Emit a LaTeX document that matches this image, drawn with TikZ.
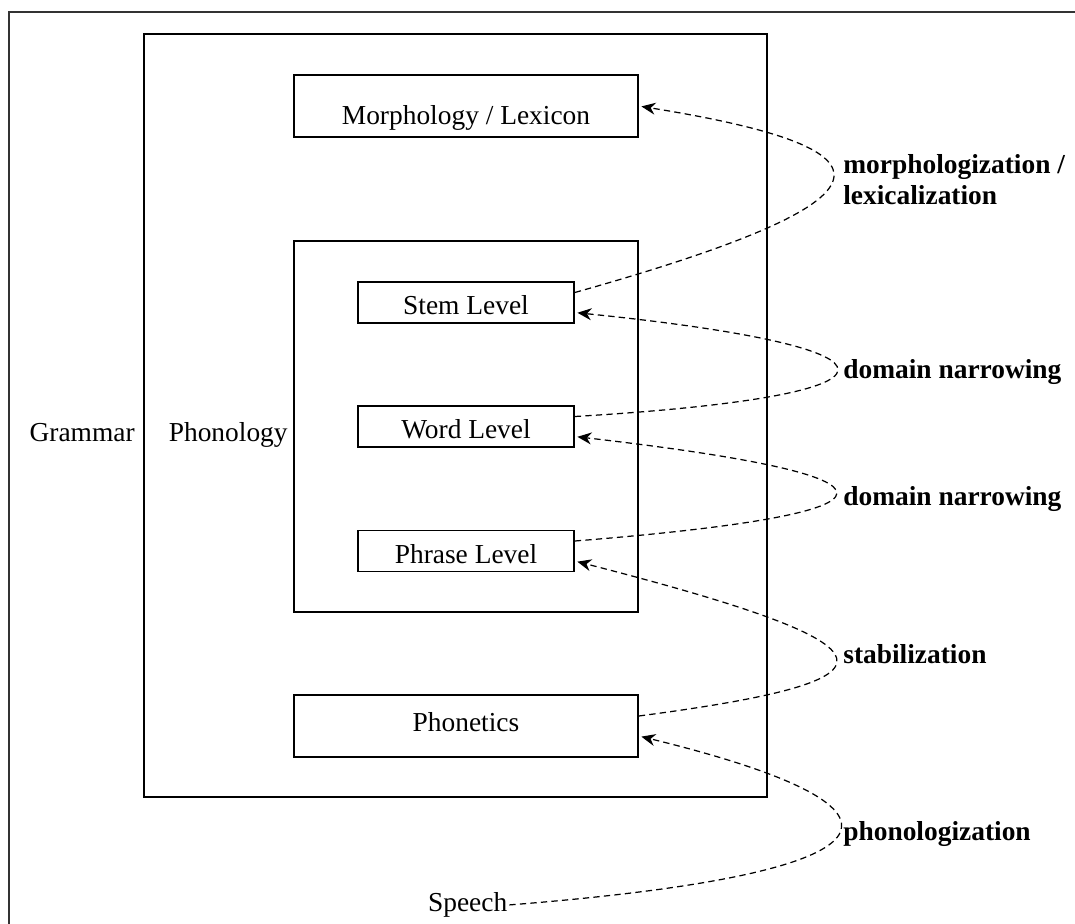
\documentclass[tikz,border=0pt]{standalone}
\usepackage{fontspec}
\setmainfont{Liberation Serif}
\usetikzlibrary{arrows.meta,positioning}

\newcommand{\lblfont}{\fontsize{15.6}{17.6}\selectfont}
\tikzset{
  frame/.style={draw, line width=0.9pt},
  box/.style={frame, minimum width=6.88cm, minimum height=1.24cm},
  lvl/.style={frame, minimum width=4.32cm, minimum height=0.82cm, text height=14pt, text depth=0pt},
  change/.style={line width=0.7pt, dash pattern=on 3.6pt off 2.4pt,
    -{Stealth[length=2.8mm,width=2.4mm]}, shorten >=1.5pt},
  proc/.style={font=\lblfont\bfseries, inner sep=0pt, align=left},
}

\begin{document}
\begin{tikzpicture}[font=\lblfont]
  \useasboundingbox (0,0) rectangle (21.5,-18.46);
  \draw[line width=0.9pt, black!80] (0.18,-18.6) |- (21.6,-0.24);

  \node[frame, minimum width=12.46cm, minimum height=15.26cm] (grammar) at (9.11,-8.31) {};
  \node[frame, minimum width=6.88cm, minimum height=7.42cm] (phonology) at (9.32,-8.53) {};
  \node[box, text height=21pt, text depth=0pt] (morph) at (9.32,-2.12) {Morphology / Lexicon};
  \node[box, text depth=5pt] (phonetics) at (9.32,-14.52) {Phonetics};
  \foreach \t/\y [count=\n] in {Stem Level/-6.05, Word Level/-8.53, Phrase Level/-11.02} {
    \node[lvl] (L\n) at (9.32,\y) {\t};
  }
  \node[anchor=base east, inner sep=0pt] (grammarlbl) at (2.7,-8.83) {Grammar};
  \node[anchor=base east, inner sep=0pt] (phonologylbl) at (5.76,-8.83) {Phonology};
  \node[anchor=base west, inner sep=1pt] (speech) at (8.52,-18.23) {Speech};

  \node[proc, anchor=west] (p1) at (16.86,-3.6) {morphologization /\\lexicalization};
  \foreach \t/\y [count=\n from 2] in {domain narrowing/-7.56, domain narrowing/-10.1, stabilization/-13.27, phonologization/-16.81} {
    \node[proc, anchor=base west] (p\n) at (16.86,\y) {\t};
  }

  \draw[change] ([yshift=2mm]L1.east) .. controls +(6.68,1.88) and +(5.32,-0.86) .. (morph.east);
  \draw[change] ([yshift=2mm]L2.east) .. controls +(7,0.42) and +(6.96,-0.71) .. ([yshift=-2mm]L1.east);
  \draw[change] ([yshift=2mm]L3.east) .. controls +(6.96,0.56) and +(6.94,-0.8) .. ([yshift=-2mm]L2.east);
  \draw[change] ([yshift=2mm]phonetics.east) .. controls +(5.46,0.72) and +(6.72,-1.73) .. ([yshift=-2mm]L3.east);
  \draw[change] (speech.east) .. controls +(8.36,0.66) and +(5.7,-1.39) .. ([yshift=-2mm]phonetics.east);
\end{tikzpicture}
\end{document}
